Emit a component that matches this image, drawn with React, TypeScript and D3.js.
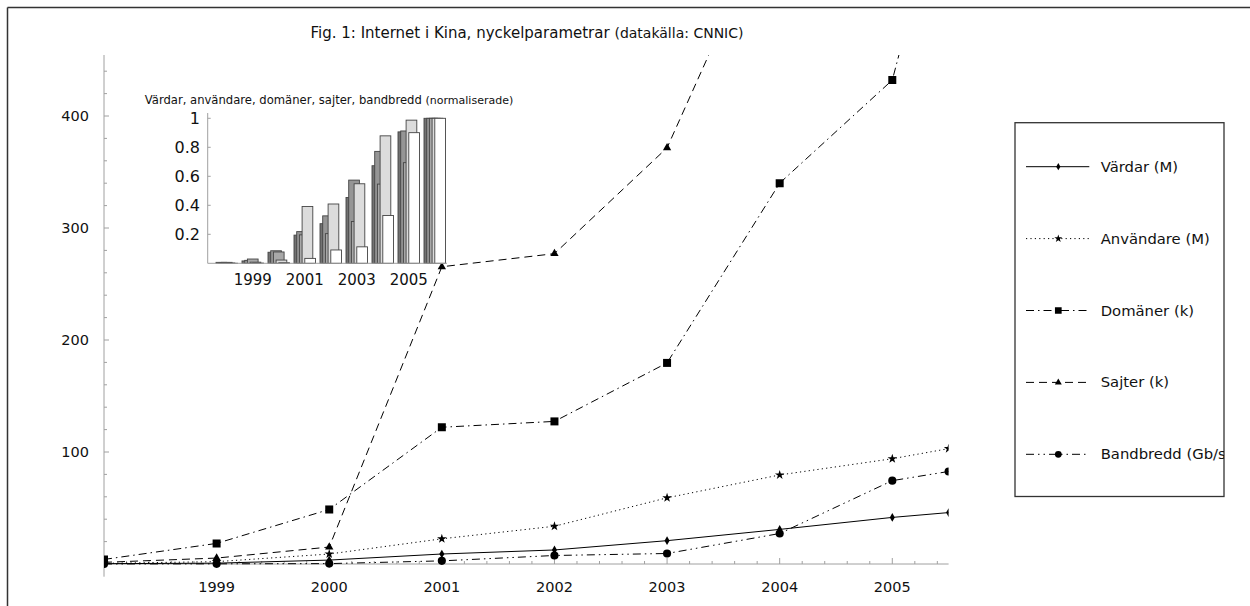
import React from 'react';
import * as d3 from 'd3';

// ---- data (CNNIC key parameters) ----
const periods = [1998, 1999, 2000, 2001, 2002, 2003, 2004, 2005, 2005.5];
const hostsM = [0.299, 0.747, 3.5, 8.92, 12.54, 20.83, 30.89, 41.6, 45.9];
const usersM = [0.62, 2.1, 8.9, 22.5, 33.7, 59.1, 79.5, 94.0, 103.0];
const domainsK = [4.066, 18.396, 48.695, 122.099, 127.319, 179.544, 340.04, 432.077, 622.534];
const sitesK = [1.5, 5.3, 15.153, 265.405, 277.1, 371.6, 595.55, 668.9, 677.5];
const bandwidthGbps = [0.025, 0.143, 0.351, 2.799, 7.5975, 9.38, 27.216, 74.429, 82.617];
const seriesNames = ['Värdar (M)', 'Användare (M)', 'Domäner (k)', 'Sajter (k)', 'Bandbredd (Gb/s)'];
const mainXTicks = [1999, 2000, 2001, 2002, 2003, 2004, 2005];
const mainYTicks = [100, 200, 300, 400];
const insetYTicks = [0.2, 0.4, 0.6, 0.8, 1];
const insetYTickLabels = ['0.2', '0.4', '0.6', '0.8', '1'];
const insetXTickLabels = ['', '1999', '', '2001', '', '2003', '', '2005', ''];
const titleMain = 'Fig. 1: Internet i Kina, nyckelparametrar ';
const titleSource = '(datakälla: CNNIC)';
const insetTitleMain = 'Värdar, användare, domäner, sajter, bandbredd ';
const insetTitleNote = '(normaliserade)';

const allSeries = [hostsM, usersM, domainsK, sitesK, bandwidthGbps];

// ---- styles ----
const dashes = ['none', '1.2,3.2', '8,4,1.5,4', '8,5', '8,4,1.5,4,1.5,4'];
const symbols = [d3.symbolDiamond, d3.symbolStar, d3.symbolSquare, d3.symbolTriangle, d3.symbolCircle];
const symbolSizes = [22, 28, 64, 30, 52];
const barFills = ['#727272', '#959595', '#a8a8a8', '#dcdcdc', '#ffffff'];
const FONT = 'DejaVu Sans, Verdana, sans-serif';
const AXIS = '#a0a0a0';

export default function App() {
  const W = 1250, H = 606;
  // main plot
  const x = d3.scaleLinear().domain([1998, 2005.5]).range([104, 948.6]);
  const y = d3.scaleLinear().domain([0, 400]).range([564, 116]);
  const yTop = y.invert(55);
  const yBottom = y.invert(576.7);
  const minorY = d3.range(20, yTop, 20).filter((v) => v % 100 !== 0);
  const minorX = d3.range(1, 38).map((k) => 1998 + k * 0.2).filter((v) => Math.abs(v - Math.round(v)) > 0.01 && v <= 2005.5);

  const line = d3.line<[number, number]>().x((d) => x(d[0])).y((d) => y(d[1]));

  // inset
  const ix = d3.scaleLinear().domain([0, 8]).range([226.75, 434.75]);
  const iy = d3.scaleLinear().domain([0, 1]).range([263.3, 118.3]);
  const barW = 10.7, barStep = 2.7;
  const normalized = allSeries.map((s) => s.map((v) => v / s[s.length - 1]));

  // legend
  const legendY = d3.scaleLinear().domain([0, 4]).range([166.7, 454.3]);

  return (
    <div style={{ position: 'fixed', left: 0, top: 0 }}>
      <svg width={W} height={H} viewBox={`0 0 ${W} ${H}`} style={{ display: 'block', background: '#fff' }}>
        <defs>
          <clipPath id="plotClip">
            <rect x={104} y={55} width={948.6 - 104} height={576.7 - 55} />
          </clipPath>
          <clipPath id="legendClip">
            <rect x={1015} y={122.7} width={1224 - 1015} height={496.5 - 122.7} />
          </clipPath>
        </defs>
        <rect x={0} y={0} width={W} height={H} fill="#fff" />
        {/* frame */}
        <line x1={7.5} y1={7.5} x2={W} y2={7.5} stroke="#333" strokeWidth={1.5} />
        <line x1={7.5} y1={7.5} x2={7.5} y2={H} stroke="#333" strokeWidth={1.5} />

        {/* title */}
        <text x={527} y={38} textAnchor="middle" fontFamily={FONT} fontSize={15} fill="#111">
          {titleMain}
          <tspan fontSize={14}>{titleSource}</tspan>
        </text>

        {/* main axes */}
        <line x1={x(1998)} y1={y(yBottom)} x2={x(1998)} y2={y(yTop)} stroke={AXIS} strokeWidth={1} />
        <line x1={x(1998)} y1={y(0)} x2={x(2005.5)} y2={y(0)} stroke={AXIS} strokeWidth={1} />
        {mainYTicks.map((t) => (
          <g key={'yt' + t}>
            <line x1={x(1998)} x2={x(1998) + 5} y1={y(t)} y2={y(t)} stroke={AXIS} />
            <text x={89} y={y(t) + 5} textAnchor="end" fontFamily={FONT} fontSize={14.5} fill="#111">{t}</text>
          </g>
        ))}
        {minorY.map((t) => (
          <line key={'ym' + t} x1={x(1998)} x2={x(1998) + 3} y1={y(t)} y2={y(t)} stroke={AXIS} />
        ))}
        {mainXTicks.map((t) => (
          <g key={'xt' + t}>
            <line x1={x(t)} x2={x(t)} y1={y(0)} y2={y(0) - 6} stroke={AXIS} />
            <text x={x(t)} y={592} textAnchor="middle" fontFamily={FONT} fontSize={14.5} fill="#111">{t}</text>
          </g>
        ))}
        {minorX.map((t) => (
          <line key={'xm' + t} x1={x(t)} x2={x(t)} y1={y(0)} y2={y(0) - 3} stroke={AXIS} />
        ))}

        {/* series */}
        <g clipPath="url(#plotClip)">
          {allSeries.map((s, i) => {
            const pts = periods.map((p, k) => [p, s[k]] as [number, number]);
            const sym = d3.symbol().type(symbols[i]).size(symbolSizes[i]);
            return (
              <g key={'s' + i}>
                <path d={line(pts) || ''} fill="none" stroke="#000" strokeWidth={1} strokeDasharray={dashes[i]} />
                {pts.map((d, k) => (
                  <path key={k} d={sym() || ''} transform={`translate(${x(d[0])},${y(d[1])})`} fill="#000" />
                ))}
              </g>
            );
          })}
        </g>

        {/* inset */}
        <text x={329} y={104} textAnchor="middle" fontFamily={FONT} fontSize={11.6} fill="#111">
          {insetTitleMain}
          <tspan fontSize={11}>{insetTitleNote}</tspan>
        </text>
        {periods.map((p, k) => (
          <g key={'grp' + k}>
            {normalized.map((s, j) => (
              <rect
                key={j}
                x={ix(k) - 10.75 + j * barStep}
                y={iy(s[k])}
                width={barW}
                height={Math.max(0, iy(0) - iy(s[k]))}
                fill={barFills[j]}
                stroke="#444"
                strokeWidth={0.9}
              />
            ))}
          </g>
        ))}
        <line x1={207.7} y1={iy(0)} x2={447} y2={iy(0)} stroke={AXIS} strokeWidth={1} />
        <line x1={207.7} y1={iy(0)} x2={207.7} y2={113} stroke={AXIS} strokeWidth={1} />
        {insetYTicks.map((t, k) => (
          <g key={'iyt' + k}>
            <line x1={207.7} x2={210.7} y1={iy(t)} y2={iy(t)} stroke={AXIS} />
            <text x={200} y={iy(t) + 5.5} textAnchor="end" fontFamily={FONT} fontSize={16} fill="#111">{insetYTickLabels[k]}</text>
          </g>
        ))}
        {insetXTickLabels.map((lab, k) =>
          lab ? (
            <text key={'ixl' + k} x={ix(k)} y={284.5} textAnchor="middle" fontFamily={FONT} fontSize={15} fill="#111">{lab}</text>
          ) : null
        )}

        {/* legend */}
        <rect x={1015} y={122.7} width={1224 - 1015} height={496.5 - 122.7} fill="#fff" stroke="#333" strokeWidth={1.3} />
        <g clipPath="url(#legendClip)">
          {seriesNames.map((name, i) => {
            const ly = legendY(i);
            const sym = d3.symbol().type(symbols[i]).size(symbolSizes[i] * 0.7);
            return (
              <g key={'lg' + i}>
                <line x1={1026} x2={1089.3} y1={ly} y2={ly} stroke="#000" strokeWidth={1} strokeDasharray={dashes[i]} />
                <path d={sym() || ''} transform={`translate(1058.3,${ly})`} fill="#000" />
                <text x={1100.7} y={ly + 5} fontFamily={FONT} fontSize={14.8} fill="#111">{name}</text>
              </g>
            );
          })}
        </g>
      </svg>
    </div>
  );
}
